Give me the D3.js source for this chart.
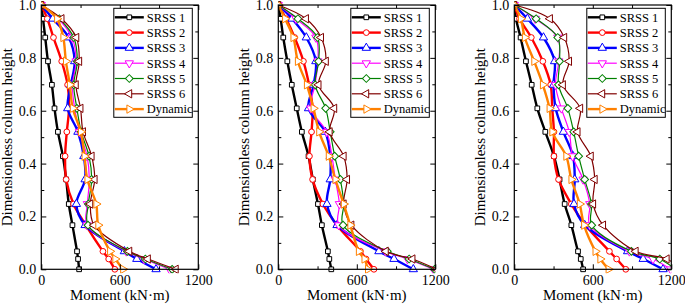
<!DOCTYPE html>
<html>
<head>
<meta charset="utf-8">
<script src="https://cdn.jsdelivr.net/npm/d3@7"></script>
<style>
  body { margin: 0; background: #fff; }
  svg text { font-family: "Liberation Serif", "Times New Roman", serif; fill: #000; }
</style>
</head>
<body>
<div id="chart"></div>
<script>
// dimensionless height of each station (same for every curve)
const heights = [1.0, 0.948, 0.877, 0.787, 0.698, 0.609, 0.52, 0.428, 0.34, 0.247, 0.167, 0.068, 0.039, 0.0];
const seriesNames = ['SRSS 1', 'SRSS 2', 'SRSS 3', 'SRSS 4', 'SRSS 5', 'SRSS 6', 'Dynamic'];

// moments (kN·m), one row per series, left panel
const momentsA = [
  [0, 13, 30, 51, 81, 101, 127, 165, 190, 210, 238, 273, 281, 289],
  [0, 46, 93, 156, 201, 212, 195, 182, 190, 246, 340, 471, 515, 562],
  [0, 88, 210, 255, 226, 202, 280, 325, 335, 268, 335, 635, 730, 877],
  [0, 130, 235, 266, 238, 255, 292, 350, 367, 352, 350, 650, 785, 980],
  [0, 138, 248, 275, 248, 272, 305, 365, 385, 360, 357, 658, 795, 1000],
  [0, 155, 268, 290, 264, 300, 319, 385, 408, 375, 403, 673, 815, 1028],
  [0, 120, 168, 188, 218, 240, 302, 330, 352, 420, 435, 525, 565, 625]
];
// middle panel
const momentsB = [
  [0, 18, 38, 69, 103, 141, 180, 231, 264, 303, 333, 379, 390, 405],
  [0, 60, 125, 192, 235, 262, 254, 238, 262, 341, 449, 628, 670, 731],
  [0, 105, 214, 287, 270, 231, 359, 397, 397, 372, 449, 769, 884, 1032],
  [0, 135, 287, 303, 280, 248, 370, 410, 436, 467, 462, 820, 987, 1185],
  [0, 150, 300, 308, 282, 362, 397, 431, 474, 500, 495, 833, 1000, 1195],
  [0, 212, 327, 364, 308, 428, 393, 500, 526, 500, 559, 822, 1026, 1210],
  [0, 51, 115, 149, 218, 269, 312, 385, 436, 500, 550, 615, 658, 685]
];
// right panel
const momentsC = [
  [0, 13, 48, 89, 133, 176, 237, 303, 346, 385, 436, 487, 508, 526],
  [0, 40, 130, 218, 278, 290, 303, 303, 338, 436, 545, 727, 782, 852],
  [0, 100, 223, 308, 300, 316, 375, 449, 462, 456, 538, 866, 985, 1137],
  [0, 160, 333, 340, 315, 360, 420, 445, 526, 577, 577, 880, 1060, 1195],
  [0, 167, 332, 346, 338, 409, 454, 492, 538, 590, 592, 895, 1112, 1230],
  [0, 273, 382, 419, 372, 504, 484, 585, 615, 603, 679, 928, 1165, 1280],
  [0, 50, 80, 152, 218, 269, 290, 397, 436, 500, 533, 620, 657, 720]
];

const xTicks = [0, 600, 1200];
const xMinor = [300, 900];
const yTicks = [0, 0.2, 0.4, 0.6, 0.8, 1.0];
const yMinor = [0.1, 0.3, 0.5, 0.7, 0.9];

const colors = ['#000000', '#ff0000', '#0000ff', '#ff00ff', '#008000', '#800000', '#ff8000'];
const widths = [2.4, 2.4, 2.4, 1.2, 1.2, 1.2, 2.4];
const symbols = [
  [d3.symbolSquare, 0], [d3.symbolCircle, 0], [d3.symbolTriangle, 0], [d3.symbolTriangle, 180],
  [d3.symbolSquare, 45], [d3.symbolTriangle, -90], [d3.symbolTriangle, 90]
];

const W = 685, H = 304;
const svg = d3.select('#chart').append('svg').attr('width', W).attr('height', H);

const PW = 157, TOP = 5, BOT = 269.3;
const lefts = [41.3, 278.3, 514.3];

function marker(g, i, cx, cy) {
  const [type, rot] = symbols[i];
  g.append('path')
    .attr('d', d3.symbol().type(type).size(i === 1 ? 26 : i === 0 ? 22 : 30)())
    .attr('transform', `translate(${cx},${cy}) rotate(${rot})`)
    .attr('fill', '#fff')
    .attr('stroke', colors[i])
    .attr('stroke-width', 1);
}

function panel(k, data) {
  const L = lefts[k];
  const x = d3.scaleLinear().domain([0, 1200]).range([L, L + PW]);
  const y = d3.scaleLinear().domain([0, 1]).range([BOT, TOP]);
  const g = svg.append('g');

  g.append('clipPath').attr('id', 'clip' + k)
    .append('rect').attr('x', L).attr('y', TOP - 4).attr('width', PW).attr('height', BOT - TOP + 8);

  const plot = g.append('g').attr('clip-path', `url(#clip${k})`);
  const line = d3.line()
    .x(d => x(d[0])).y(d => y(d[1]))
    .curve(d3.curveCatmullRom.alpha(0.5));

  data.forEach((vals, i) => {
    const pts = vals.map((v, j) => [v, heights[j]]);
    const s = plot.append('g');
    s.append('path')
      .attr('d', line(pts))
      .attr('fill', 'none')
      .attr('stroke', colors[i])
      .attr('stroke-width', widths[i])
      .attr('stroke-linejoin', 'round');
    pts.forEach(p => marker(s, i, x(p[0]), y(p[1])));
  });

  // axes, ticks inward on all four sides
  const axStyle = a => {
    a.select('.domain').remove();
    a.selectAll('line').attr('stroke', '#000').attr('stroke-width', 1);
    a.selectAll('text').attr('font-size', 14).attr('font-family', '"Liberation Serif", serif');
  };
  g.append('g').attr('transform', `translate(${L},0)`)
    .call(d3.axisLeft(y).tickValues(yTicks).tickSize(-5).tickPadding(5).tickFormat(d3.format('.1f'))).call(axStyle);
  g.append('g').attr('transform', `translate(${L},0)`)
    .call(d3.axisLeft(y).tickValues(yMinor).tickSize(-3).tickFormat('')).call(axStyle);
  g.append('g').attr('transform', `translate(${L + PW},0)`)
    .call(d3.axisRight(y).tickValues(yTicks).tickSize(-5).tickFormat('')).call(axStyle);
  g.append('g').attr('transform', `translate(${L + PW},0)`)
    .call(d3.axisRight(y).tickValues(yMinor).tickSize(-3).tickFormat('')).call(axStyle);
  g.append('g').attr('transform', `translate(0,${BOT})`)
    .call(d3.axisBottom(x).tickValues(xTicks).tickSize(-5).tickPadding(6).tickFormat(d3.format('d'))).call(axStyle);
  g.append('g').attr('transform', `translate(0,${BOT})`)
    .call(d3.axisBottom(x).tickValues(xMinor).tickSize(-3).tickFormat('')).call(axStyle);
  g.append('g').attr('transform', `translate(0,${TOP})`)
    .call(d3.axisTop(x).tickValues(xTicks).tickSize(-5).tickFormat('')).call(axStyle);
  g.append('g').attr('transform', `translate(0,${TOP})`)
    .call(d3.axisTop(x).tickValues(xMinor).tickSize(-3).tickFormat('')).call(axStyle);

  g.append('rect')
    .attr('x', L).attr('y', TOP).attr('width', PW).attr('height', BOT - TOP)
    .attr('fill', 'none').attr('stroke', '#000').attr('stroke-width', 1.2);

  // titles
  g.append('text')
    .attr('x', L + PW / 2).attr('y', 299.5)
    .attr('text-anchor', 'middle').attr('font-size', 15)
    .text('Moment (kN·m)');
  g.append('text')
    .attr('transform', `translate(${L - 29},${(TOP + BOT) / 2}) rotate(-90)`)
    .attr('text-anchor', 'middle').attr('font-size', 15)
    .text('Dimensionless column height');

  // legend
  const bw = 78.5, bx = L + PW - 6 - bw, by = 8.3;
  const lg = g.append('g');
  lg.append('rect').attr('x', bx).attr('y', by).attr('width', bw).attr('height', 109)
    .attr('fill', '#fff').attr('stroke', '#000').attr('stroke-width', 1);
  seriesNames.forEach((name, i) => {
    const ry = by + 9 + i * 15.3;
    lg.append('line').attr('x1', bx + 1).attr('x2', bx + 30).attr('y1', ry).attr('y2', ry)
      .attr('stroke', colors[i]).attr('stroke-width', widths[i]);
    marker(lg, i, bx + 15.5, ry);
    lg.append('text').attr('x', bx + 33).attr('y', ry).attr('dy', '0.35em')
      .attr('font-size', 12.5).text(name);
  });
}

[momentsA, momentsB, momentsC].forEach((d, k) => panel(k, d));
</script>
</body>
</html>
